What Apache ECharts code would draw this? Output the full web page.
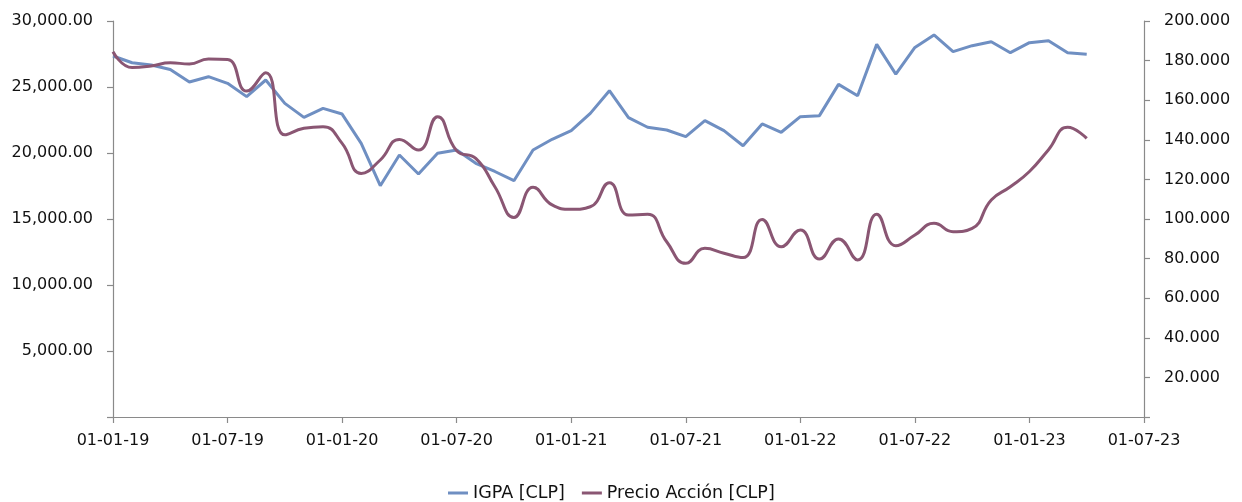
<!DOCTYPE html>
<html>
<head>
<meta charset="utf-8">
<title>IGPA vs Precio Acción</title>
<script src="https://cdn.jsdelivr.net/npm/echarts@6/dist/echarts.min.js"></script>
<style>
  html, body { margin: 0; padding: 0; background: #fff; }
  #chart { width: 1242px; height: 502px; }
</style>
</head>
<body>
<div id="chart"></div>
<script>
// Monthly observations, Jan 2019 – Apr 2023
const months = [
  '2019-01','2019-02','2019-03','2019-04','2019-05','2019-06','2019-07','2019-08','2019-09','2019-10','2019-11','2019-12',
  '2020-01','2020-02','2020-03','2020-04','2020-05','2020-06','2020-07','2020-08','2020-09','2020-10','2020-11','2020-12',
  '2021-01','2021-02','2021-03','2021-04','2021-05','2021-06','2021-07','2021-08','2021-09','2021-10','2021-11','2021-12',
  '2022-01','2022-02','2022-03','2022-04','2022-05','2022-06','2022-07','2022-08','2022-09','2022-10','2022-11','2022-12',
  '2023-01','2023-02','2023-03','2023-04'
];

// IGPA index level [CLP]
const igpa = [
  27350, 26840, 26670, 26330, 25380, 25780, 25280, 24270, 25530, 23760, 22700, 23380,
  22950, 20730, 17520, 19850, 18410, 19980, 20230, 19220, 18600, 17900, 20230, 21040,
  21690, 23000, 24720, 22680, 21950, 21740, 21240, 22450, 21690, 20550, 22200, 21570,
  22750, 22830, 25200, 24340, 28230, 25980, 28000, 28940, 27680, 28130, 28430, 27600,
  28360, 28510, 27600, 27480
];

// Share price [CLP]
const precio = [
  184.5, 176.5, 177.3, 178.9, 178.3, 180.8, 180.5, 164.6, 173.9, 142.5, 145.8, 146.6,
  138.2, 123.0, 129.8, 140.2, 134.8, 151.7, 134.5, 130.6, 116.3, 100.8, 116.0, 107.1,
  104.9, 106.2, 118.3, 102.0, 102.4, 88.5, 77.6, 85.2, 82.7, 80.5, 99.8, 86.0,
  94.4, 79.8, 89.9, 79.3, 102.4, 86.5, 91.9, 97.8, 93.6, 95.3, 109.6, 116.3,
  124.0, 135.0, 146.3, 140.7
];

// Left axis ticks (IGPA) and right axis ticks (share price)
const leftTicks = { min: 0, max: 30000, interval: 5000 };
const rightTicks = { min: 0, max: 200, interval: 20 };
// Date axis: months counted from Jan 2019, labelled every six months
const xTicks = { min: 0, max: 54, interval: 6 };

const startYear = 2019, startMonth = 1;
function monthIndex(ym) {
  const [y, m] = ym.split('-').map(Number);
  return (y - startYear) * 12 + (m - startMonth);
}
function dateLabel(idx) {
  const total = startMonth - 1 + Math.round(idx);
  const y = startYear + Math.floor(total / 12);
  const m = (total % 12) + 1;
  return '01-' + String(m).padStart(2, '0') + '-' + String(y % 100).padStart(2, '0');
}

const igpaData = months.map((m, i) => [monthIndex(m), igpa[i]]);
const precioData = months.map((m, i) => [monthIndex(m), precio[i]]);

const FONT = 'DejaVu Sans';
const axisColor = '#8a8a8a';
const textColor = '#111';

const chart = echarts.init(document.getElementById('chart'), null, { renderer: 'canvas' });

chart.setOption({
  animation: false,
  backgroundColor: '#ffffff',
  textStyle: { fontFamily: FONT },
  grid: { left: 113, right: 98, top: 21, bottom: 85, containLabel: false },
  legend: {
    top: 479,
    left: 443,
    icon: 'rect',
    itemWidth: 20,
    itemHeight: 3,
    itemGap: 17,
    textStyle: { fontFamily: FONT, fontSize: 17.5, color: textColor, padding: [0, 0, 0, 0] },
    data: ['IGPA [CLP]', 'Precio Acción [CLP]']
  },
  xAxis: {
    type: 'value',
    min: xTicks.min,
    max: xTicks.max,
    interval: xTicks.interval,
    axisLine: { show: true, onZero: false, lineStyle: { color: axisColor, width: 1.2 } },
    axisTick: { show: true, inside: false, length: 6, lineStyle: { color: axisColor, width: 1.2 } },
    splitLine: { show: false },
    axisLabel: {
      margin: 16,
      fontFamily: FONT,
      fontSize: 16,
      color: textColor,
      formatter: v => dateLabel(v)
    }
  },
  yAxis: [
    {
      type: 'value',
      position: 'left',
      min: leftTicks.min,
      max: leftTicks.max,
      interval: leftTicks.interval,
      axisLine: { show: true, lineStyle: { color: axisColor, width: 1.2 } },
      axisTick: { show: true, inside: false, length: 6, lineStyle: { color: axisColor, width: 1.2 } },
      splitLine: { show: false },
      axisLabel: {
        margin: 20,
        fontFamily: FONT,
        fontSize: 16,
        color: textColor,
        formatter: v => v === 0 ? '' : v.toLocaleString('en-US', { minimumFractionDigits: 2, maximumFractionDigits: 2 })
      }
    },
    {
      type: 'value',
      position: 'right',
      min: rightTicks.min,
      max: rightTicks.max,
      interval: rightTicks.interval,
      axisLine: { show: true, lineStyle: { color: axisColor, width: 1.2 } },
      axisTick: { show: true, inside: false, length: 6, lineStyle: { color: axisColor, width: 1.2 } },
      splitLine: { show: false },
      axisLabel: {
        margin: 20,
        fontFamily: FONT,
        fontSize: 16,
        color: textColor,
        formatter: v => v === 0 ? '' : v.toFixed(3)
      }
    }
  ],
  series: [
    {
      name: 'IGPA [CLP]',
      type: 'line',
      yAxisIndex: 0,
      data: igpaData,
      showSymbol: false,
      symbol: 'none',
      smooth: false,
      color: '#6f8fc2',
      lineStyle: { color: '#6f8fc2', width: 3 }
    },
    {
      name: 'Precio Acción [CLP]',
      type: 'line',
      yAxisIndex: 1,
      data: precioData,
      showSymbol: false,
      symbol: 'none',
      smooth: 0.5,
      color: '#8a5673',
      lineStyle: { color: '#8a5673', width: 3 }
    }
  ]
});
</script>
</body>
</html>
